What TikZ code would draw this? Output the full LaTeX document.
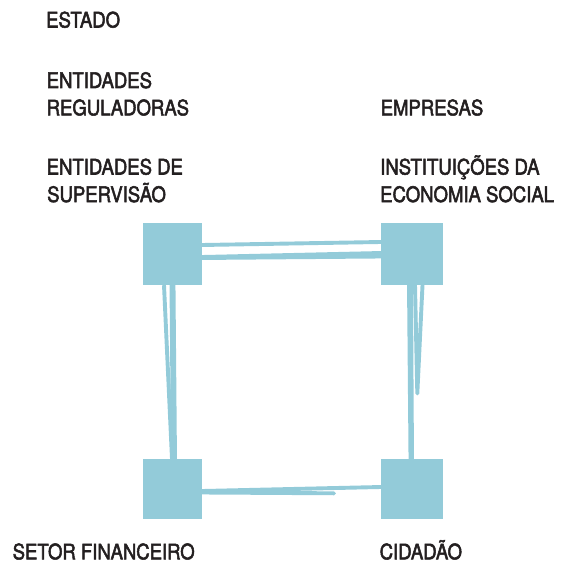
\documentclass[tikz,border=0pt]{standalone}
\usepackage{fontspec}
\setmainfont[FakeStretch=0.87,FakeBold=2.4]{TeX Gyre Heros}
\usetikzlibrary{calc}
\definecolor{boxcol}{RGB}{147,203,217}
\definecolor{textcol}{RGB}{35,31,32}
\begin{document}
\begin{tikzpicture}[x=1pt,y=1pt,
  txt/.style={anchor=base west, inner sep=0pt, font=\fontsize{21.3}{27.3}\selectfont, text=textcol},
  sq/.style={fill=boxcol, draw=none, inner sep=0pt},
  conn/.style={draw=boxcol, line width=3.9pt, line cap=round, line join=round}]
\useasboundingbox (0,0) rectangle (560,-564);
% squares
\node[sq, minimum width=59pt, minimum height=62pt] (tl) at (172.5,-254) {};
\node[sq, minimum width=62pt, minimum height=62pt] (tr) at (412,-254) {};
\node[sq, minimum width=59pt, minimum height=60pt] (bl) at (172.5,-489) {};
\node[sq, minimum width=62pt, minimum height=60pt] (br) at (412,-489) {};
% labels
\node[txt] (estado) at (46,-27.5) {ESTADO};
\node[txt] (reg1) at (46.5,-88) {ENTIDADES};
\node[txt] (reg2) at (46.5,-115.3) {REGULADORAS};
\node[txt] (sup1) at (46.5,-174.5) {ENTIDADES DE};
\node[txt] (sup2) at (47,-202) {SUPERVISÃO};
\node[txt] (emp) at (380.5,-115.3) {EMPRESAS};
\node[txt] (ies1) at (380,-174.5) {INSTITUIÇÕES DA};
\node[txt] (ies2) at (380,-202) {ECONOMIA SOCIAL};
\node[txt] (setor) at (12.5,-559.3) {SETOR FINANCEIRO};
\node[txt] (cid) at (379.5,-559.3) {CIDADÃO};
% top connectors
\draw[conn, line cap=butt] ([yshift=9pt]tl.east) -- ([yshift=12pt]tr.west);
\draw[conn, line cap=butt] ([yshift=-3pt]tl.east) -- ([yshift=1pt]tr.west);
\draw[conn, line cap=butt] ([yshift=-4pt]tl.east) -- ([yshift=-2.5pt]tr.west);
% left connectors
\draw[conn, line cap=butt] ([xshift=-8.5pt]tl.south) -- ([xshift=-0.5pt]bl.north);
\draw[conn, line cap=butt] ([xshift=-1pt]tl.south) -- ([xshift=0.5pt]bl.north);
\draw[conn, line cap=butt] ([xshift=1pt]tl.south) -- ([xshift=2.5pt]bl.north);
% right connectors
\draw[conn, line cap=butt] ([xshift=-3pt]tr.south) -- ([xshift=-1.5pt]br.north);
\draw[conn, line cap=butt] ([xshift=-1pt]tr.south) -- ([xshift=0pt]br.north);
\coordinate (vtip) at (417.3,-393.5);
\draw[conn] ([xshift=3pt]tr.south) -- (vtip) -- ([xshift=10.5pt]tr.south);
% bottom connectors
\draw[conn, line cap=butt] ([yshift=-2pt]bl.east) -- ([yshift=2pt]br.west);
\coordinate (bend) at (334,-493.3);
\draw[conn] ([yshift=-3.5pt]bl.east) -- (bend);
\end{tikzpicture}
\end{document}
